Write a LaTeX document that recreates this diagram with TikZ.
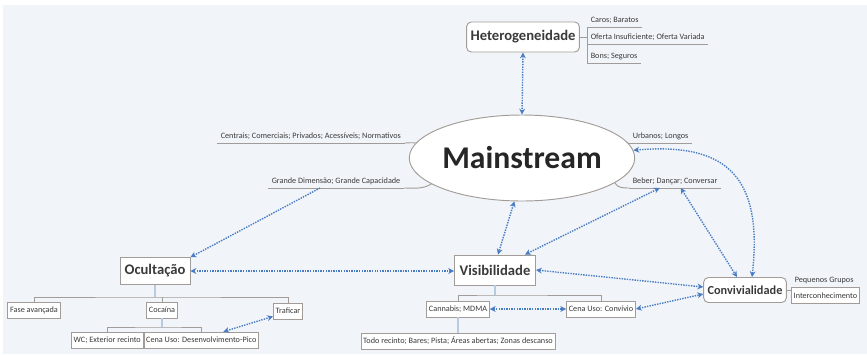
\documentclass[tikz,border=0pt]{standalone}
\usepackage{fontspec}
\setmainfont{Carlito}
\usepackage{xcolor}
\usetikzlibrary{shapes.geometric, arrows.meta, positioning, calc}

\definecolor{bgcol}{HTML}{F1F5F9}
\definecolor{linegray}{HTML}{A29C98}
\definecolor{textgray}{HTML}{3A3A3A}
\definecolor{relblue}{HTML}{4A7CC3}
\definecolor{stemblue}{HTML}{B7CBE0}

\begin{document}
\begin{tikzpicture}[
    x=0.03cm, y=-0.03cm,
    >={Stealth[length=5pt,width=5pt]},
    central/.style={ellipse, draw=linegray, fill=white, line width=0.8pt, minimum width=5.73cm, minimum height=2.58cm, inner sep=0pt, text=black!85, font=\bfseries\fontsize{27}{30}\selectfont},
    topic/.style={rectangle, draw=linegray, fill=white, line width=0.8pt, minimum width=2.1cm, minimum height=0.8cm, text=textgray, font=\bfseries\fontsize{12.5}{14}\selectfont},
    leaf/.style={rectangle, draw=linegray, fill=white, line width=0.6pt, minimum height=0.48cm, inner xsep=2pt, inner ysep=1pt, text=textgray, font=\fontsize{7}{8}\selectfont},
    tag/.style={anchor=south west, inner xsep=3pt, inner ysep=2.5pt, text=textgray, font=\fontsize{7}{8}\selectfont},
    branch/.style={draw=linegray, line width=0.8pt},
    stem/.style={draw=stemblue, line width=1pt},
    rel/.style={<->, draw=relblue, line width=1.2pt, densely dotted}
]
    % Background
    \fill[white] (0,0) rectangle (867,354);
    \fill[bgcol] (3,5) rectangle (867,354);
    \useasboundingbox (0,0) rectangle (867,354);

    % Layout
    \node[central] (main) at (522,158) {Mainstream};
    \node[topic, rounded corners=4pt, minimum width=3.27cm, minimum height=0.9cm] (hetero) at (523,37) {Heterogeneidade};
    \node[tag] (caros) at (587,27) {Caros; Baratos};
    \node[tag] (oferta) at (587,44) {Oferta Insuficiente; Oferta Variada};
    \node[tag] (bons) at (587,63) {Bons; Seguros};
    \node[tag] (centrais) at (217,143) {Centrais; Comerciais; Privados; Acessíveis; Normativos};
    \node[tag] (grande) at (268,188) {Grande Dimensão; Grande Capacidade};
    \node[tag] (urbanos) at (629,143) {Urbanos; Longos};
    \node[tag] (beber) at (629,188) {Beber; Dançar; Conversar};

    \node[topic] (ocult) at (155,271) {Ocultação};
    \node[topic, minimum width=2.43cm, minimum height=0.9cm] (visib) at (495,270) {Visibilidade};
    \node[topic, rounded corners=4pt, minimum width=2.31cm, minimum height=0.75cm, font=\bfseries\fontsize{10.5}{12}\selectfont] (conviv) at (745,290) {Convivialidade};

    \node[leaf] (fase) at (34,310) {Fase avançada};
    \node[leaf] (cocaina) at (162,310) {Cocaína};
    \node[leaf] (traficar) at (288,311) {Traficar};
    \node[leaf, anchor=east] (wc) at (143.5,340) {WC; Exterior recinto};
    \node[leaf, anchor=west] (pico) at (143.5,340) {Cena Uso: Desenvolvimento-Pico};
    \node[leaf] (cannabis) at (458,309) {Cannabis; MDMA};
    \node[leaf] (cenaconv) at (601,309) {Cena Uso: Convívio};
    \node[leaf] (todo) at (458,341) {Todo recinto; Bares; Pista; Áreas abertas; Zonas descanso};
    \node[tag] (pequenos) at (791,287) {Pequenos Grupos};
    \node[leaf, anchor=north west] (inter) at (791,287) {Interconhecimento};

    % Branches
    \draw[branch] (hetero.east) -- (hetero.east -| caros.west);
    \draw[branch] (caros.south west) -- (bons.south west);
    \foreach \n in {caros, oferta, bons, centrais, grande, urbanos, beber, pequenos}
        \draw[branch] (\n.south west) -- (\n.south east);
    \draw[branch] (centrais.south east) to[out=0, in=170] (main.172);
    \draw[branch] (grande.south east) to[out=0, in=210] (main.196);
    \draw[branch] (main.8) to[out=-10, in=180] (urbanos.south west);
    \draw[branch] (main.345) to[out=-60, in=180] (beber.south west);
    \draw[branch] (conviv.east) -- (conviv.east -| inter.west);

    \coordinate (obar) at (155,297);
    \draw[stem] (ocult.south) -- (obar);
    \draw[branch] (fase.north) |- (obar) -| (traficar.north);
    \draw[branch] (cocaina.north) -- (cocaina.north |- obar);
    \coordinate (cbar) at (162,327);
    \draw[stem] (cocaina.south) -- (cbar);
    \draw[branch] (wc.north) |- (cbar) -| (pico.north);
    \coordinate (vbar) at (495,295);
    \draw[stem] (visib.south) -- (vbar);
    \draw[branch] (cannabis.north) |- (vbar) -| (cenaconv.north);
    \draw[stem] (cannabis.south) -- (todo.north);

    % Relations
    \draw[rel] (hetero.south) -- (main.north);
    \draw[rel, ->] ([xshift=-0.48cm]grande.south) -- (ocult.north east);
    \draw[rel] (ocult.east) -- (ocult.east -| visib.west);
    \draw[rel] (main.260) -- ([xshift=0.09cm]visib.north);
    \draw[rel] ([xshift=-0.46cm]beber.south) -- ([xshift=-0.33cm]visib.north east);
    \draw[rel] ([xshift=0.17cm]beber.south) -- ([xshift=-0.24cm]conviv.north);
    \draw[rel] (main.4) .. controls (720,143) and (764,170) .. ([xshift=0.21cm]conviv.north);
    \draw[rel] (visib.east) -- ([yshift=0.09cm]conviv.west);
    \draw[rel] (cenaconv.east) -- ([yshift=-0.12cm]conviv.west);
    \draw[rel] (cannabis) -- (cenaconv);
    \draw[rel] ([xshift=0.66cm]pico.north) -- (traficar.200);
\end{tikzpicture}
\end{document}
